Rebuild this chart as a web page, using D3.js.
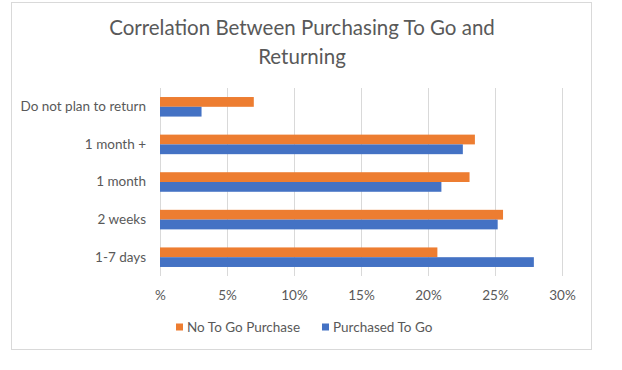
<!DOCTYPE html>
<html>
<head>
<meta charset="utf-8">
<script src="https://cdn.jsdelivr.net/npm/d3@7"></script>
<style>
  body { margin: 0; background: #fff; }
  svg text { font-family: Lato, "Open Sans", sans-serif; fill: #595959; }
</style>
</head>
<body>
<div id="chart"></div>
<script>
// data (percent of respondents)
const categories = ['1-7 days', '2 weeks', '1 month', '1 month +', 'Do not plan to return'];
const seriesNames = ['No To Go Purchase', 'Purchased To Go'];
const noToGo = [20.7, 25.6, 23.1, 23.5, 7.0];
const toGo = [27.9, 25.2, 21.0, 22.6, 3.1];
const tickValues = [0, 5, 10, 15, 20, 25, 30];
const tickLabels = ['%', '5%', '10%', '15%', '20%', '25%', '30%'];
const colors = ['#ED7D31', '#4472C4'];

const width = 622, height = 370;
const plot = {l: 160, r: 562, t: 88, b: 276};

const svg = d3.select('#chart').append('svg')
  .attr('width', width)
  .attr('height', height);

// chart frame
svg.append('rect')
  .attr('x', 11.5).attr('y', 2.5)
  .attr('width', 580).attr('height', 347)
  .attr('fill', '#fff')
  .attr('stroke', '#d9d9d9');

// title
const title = svg.append('text')
  .attr('text-anchor', 'middle')
  .style('font-size', '20.5px');
title.append('tspan').attr('x', 302).attr('y', 35).text('Correlation Between Purchasing To Go and');
title.append('tspan').attr('x', 302).attr('y', 64).text('Returning');

const scaleX = d3.scaleLinear().domain([0, 30]).range([plot.l, plot.r]);
const scaleY = d3.scaleBand()
  .domain(categories.slice().reverse()) // Excel draws the last category on top
  .range([plot.t, plot.b])
  .paddingInner(0.48)
  .paddingOuter(0.24);
const scaleSeries = d3.scaleBand()
  .domain(seriesNames)
  .range([0, scaleY.bandwidth()]);

// gridlines + tick labels
const axisX = d3.axisBottom(scaleX)
  .tickValues(tickValues)
  .tickFormat((d, i) => tickLabels[i])
  .tickSize(-(plot.b - plot.t))
  .tickPadding(14);

const axisXNode = svg.append('g')
  .attr('class', 'axis axis-x')
  .attr('transform', `translate(0,${plot.b})`)
  .call(axisX);
axisXNode.select('.domain').remove();
axisXNode.selectAll('line').attr('stroke', '#d9d9d9');
axisXNode.selectAll('text').style('font-size', '13.5px').attr('fill', '#595959');

// category labels
const axisY = d3.axisLeft(scaleY).tickSize(0).tickPadding(14);
const axisYNode = svg.append('g')
  .attr('class', 'axis axis-y')
  .attr('transform', `translate(${plot.l},0)`)
  .call(axisY);
axisYNode.select('.domain').remove();
axisYNode.selectAll('text').style('font-size', '13.5px').attr('fill', '#595959');

// bars
const rows = categories.map((c, i) => ({cat: c, values: [noToGo[i], toGo[i]]}));
const groups = svg.selectAll('.group')
  .data(rows)
  .enter().append('g')
  .attr('class', 'group')
  .attr('transform', d => `translate(0,${scaleY(d.cat)})`);

groups.selectAll('.bin')
  .data(d => d.values.map((v, i) => ({name: seriesNames[i], v: v, i: i})))
  .enter().append('rect')
  .attr('class', 'bin')
  .attr('x', scaleX(0))
  .attr('y', d => scaleSeries(d.name))
  .attr('width', d => scaleX(d.v) - scaleX(0))
  .attr('height', scaleSeries.bandwidth())
  .attr('fill', d => colors[d.i]);

// legend
const legendX = [176, 322];
const legend = svg.selectAll('.legend')
  .data(seriesNames)
  .enter().append('g')
  .attr('class', 'legend')
  .attr('transform', (d, i) => `translate(${legendX[i]},327)`);
legend.append('rect')
  .attr('x', 0).attr('y', -3.5)
  .attr('width', 7).attr('height', 7)
  .attr('fill', (d, i) => colors[i]);
legend.append('text')
  .attr('x', 11).attr('dy', '0.35em')
  .style('font-size', '13.5px')
  .text(d => d);
</script>
</body>
</html>
